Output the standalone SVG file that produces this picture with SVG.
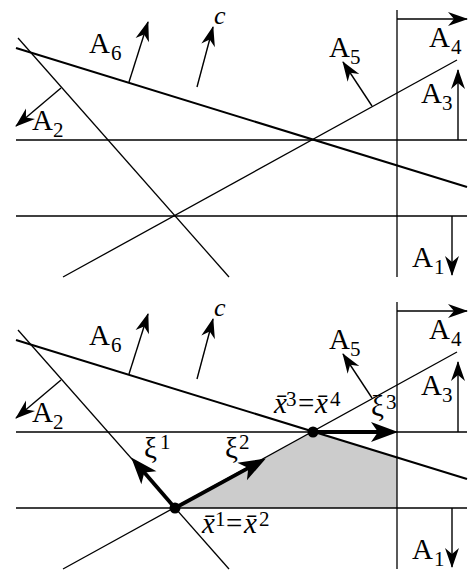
<svg xmlns="http://www.w3.org/2000/svg" width="473" height="572" viewBox="0 0 473 572">
<style>
.ln{stroke:#000;stroke-width:1.3;fill:none}
.lt{stroke:#000;stroke-width:2;fill:none}
.ar{stroke:#000;stroke-width:1.4;fill:none;marker-end:url(#ah)}
.tk{stroke:#000;stroke-width:3.8;fill:none;marker-end:url(#ahk)}
.A{font-size:29px;fill:#000}
.s{font-size:21px}
.it{font-style:italic}
.c{font-size:26px;font-style:italic;fill:#000}
</style>
<defs>
<marker id="ah" markerUnits="userSpaceOnUse" markerWidth="30" markerHeight="20" viewBox="-22 -10 30 20" refX="0" refY="0" orient="auto" overflow="visible">
<path d="M1,0 L-19,-7 L-13,0 L-19,7 Z" fill="#000"/>
</marker>
<marker id="ahk" markerUnits="userSpaceOnUse" markerWidth="40" markerHeight="30" viewBox="-15 -15 40 30" refX="0" refY="0" orient="auto" overflow="visible">
<path d="M16,0 L-11,-10 L-4,0 L-11,10 Z" fill="#000"/>
</marker>
</defs>

<g id="top-panel">
<g id="connectors-top">
<line class="ln" x1="16" y1="140" x2="467" y2="140"/>
<line class="ln" x1="16" y1="216" x2="467" y2="216"/>
<line class="ln" x1="397" y1="10" x2="397" y2="277"/>
<line class="lt" x1="16" y1="48" x2="467" y2="187"/>
<line class="ln" x1="18" y1="38" x2="229" y2="277"/>
<line class="ln" x1="63" y1="277" x2="457" y2="60"/>
<line class="ar" x1="397" y1="19" x2="467" y2="19"/>
<line class="ar" x1="458" y1="140" x2="458" y2="70"/>
<line class="ar" x1="452" y1="216" x2="452" y2="275"/>
<line class="ar" x1="129" y1="82" x2="148" y2="22"/>
<line class="ar" x1="197" y1="87" x2="213" y2="27"/>
<line class="ar" x1="61" y1="88" x2="16" y2="126"/>
<line class="ar" x1="372" y1="106" x2="343" y2="62"/>
</g>
<g id="labels-top" font-family="'Liberation Serif', 'Times New Roman', serif">
<text class="A" x="89" y="53">A<tspan class="s" x="111" y="60">6</tspan></text>
<text class="A" x="32" y="130">A<tspan class="s" x="53" y="137">2</tspan></text>
<text class="A" x="329" y="57">A<tspan class="s" x="350" y="64">5</tspan></text>
<text class="A" x="429" y="47">A<tspan class="s" x="451" y="54">4</tspan></text>
<text class="A" x="421" y="103">A<tspan class="s" x="442" y="110">3</tspan></text>
<text class="A" x="412" y="267">A<tspan class="s" x="434" y="274">1</tspan></text>
<text class="c" x="214" y="24">c</text>
</g>
</g>

<g id="bottom-panel" transform="translate(0,292)">
<polygon id="feasible-region" points="175,216 313,140 397,165.4 397,216" fill="#cccccc" stroke="none"/>
<g id="connectors-bottom">
<line class="ln" x1="16" y1="140" x2="467" y2="140"/>
<line class="ln" x1="16" y1="216" x2="467" y2="216"/>
<line class="ln" x1="397" y1="10" x2="397" y2="277"/>
<line class="lt" x1="16" y1="48" x2="467" y2="187"/>
<line class="ln" x1="18" y1="38" x2="229" y2="277"/>
<line class="ln" x1="63" y1="277" x2="457" y2="60"/>
<line class="ar" x1="397" y1="19" x2="467" y2="19"/>
<line class="ar" x1="458" y1="140" x2="458" y2="70"/>
<line class="ar" x1="452" y1="216" x2="452" y2="275"/>
<line class="ar" x1="129" y1="82" x2="148" y2="22"/>
<line class="ar" x1="197" y1="87" x2="213" y2="27"/>
<line class="ar" x1="61" y1="88" x2="16" y2="126"/>
<line class="ar" x1="372" y1="106" x2="343" y2="62"/>
<line class="tk" x1="175" y1="216" x2="141.7" y2="177.5"/>
<line class="tk" x1="175" y1="216" x2="251.8" y2="174.2"/>
<line class="tk" x1="313" y1="140" x2="382" y2="140"/>
</g>
<g id="vertices">
<circle id="x1x2" cx="175" cy="216" r="5.5" fill="#000"/>
<circle id="x3x4" cx="313" cy="140" r="5.5" fill="#000"/>
</g>
<g id="labels-bottom" font-family="'Liberation Serif', 'Times New Roman', serif">
<text class="A" x="89" y="53">A<tspan class="s" x="111" y="60">6</tspan></text>
<text class="A" x="32" y="130">A<tspan class="s" x="53" y="137">2</tspan></text>
<text class="A" x="329" y="57">A<tspan class="s" x="350" y="64">5</tspan></text>
<text class="A" x="429" y="47">A<tspan class="s" x="451" y="54">4</tspan></text>
<text class="A" x="421" y="103">A<tspan class="s" x="442" y="110">3</tspan></text>
<text class="A" x="412" y="267">A<tspan class="s" x="434" y="274">1</tspan></text>
<text class="c" x="214" y="24">c</text>
<text class="A" x="144" y="166">ξ<tspan class="s" x="160" y="157">1</tspan></text>
<text class="A" x="225" y="166">ξ<tspan class="s" x="239" y="157">2</tspan></text>
<text class="A" x="371" y="124">ξ<tspan class="s" x="386" y="117">3</tspan></text>
<text class="A" x="274" y="121"><tspan class="it">x̄</tspan><tspan class="s" x="286" y="114">3</tspan><tspan x="298" y="121">=</tspan><tspan class="it" x="315">x̄</tspan><tspan class="s" x="330" y="114">4</tspan></text>
<text class="A" x="202" y="241"><tspan class="it">x̄</tspan><tspan class="s" x="215" y="234">1</tspan><tspan x="226" y="241">=</tspan><tspan class="it" x="244">x̄</tspan><tspan class="s" x="259" y="234">2</tspan></text>
</g>
</g>
</svg>
